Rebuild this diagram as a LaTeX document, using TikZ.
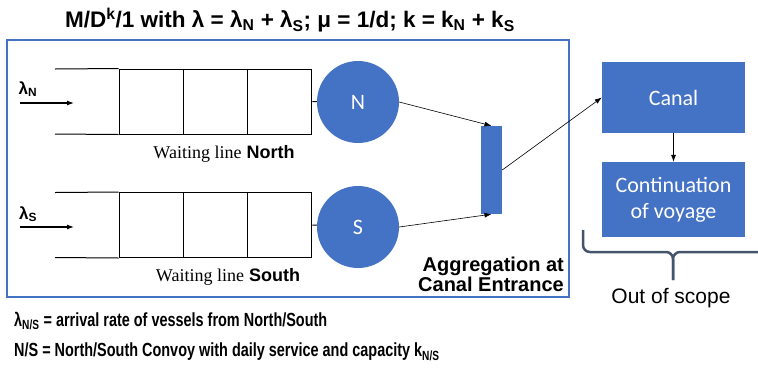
\documentclass[tikz,border=0pt]{standalone}
\usepackage{fontspec}
\setmainfont{Liberation Sans}
\newfontfamily\serifFont{Liberation Serif}
\newfontfamily\boxFont{Carlito}
\newfontfamily\narrowFont[FakeStretch=0.76]{Liberation Sans}
\usetikzlibrary{arrows.meta}
\definecolor{officeBlue}{HTML}{4472C4}
\definecolor{braceGray}{HTML}{44546A}
\newcommand{\fsize}[2]{\fontsize{#1}{#2}\selectfont}
\newcommand{\rate}[1]{λ\textsubscript{#1}}
\newcommand{\capk}[1]{k\textsubscript{#1}}

\begin{document}
\begin{tikzpicture}[x=1pt,y=-1pt,
  cell/.style={draw,line width=1pt,minimum width=64.3pt,minimum height=65pt,inner sep=0pt},
  server/.style={circle,fill=officeBlue,minimum size=82pt,inner sep=0pt,text=white,font=\boxFont\fsize{22}{24}},
  block/.style={fill=officeBlue,text=white,inner sep=0pt,font=\boxFont\fsize{22}{26},align=center},
  flow/.style={-{Latex[length=7pt,width=5pt]},line width=0.6pt}]
\useasboundingbox (0,0) rectangle (758,368);

% title
\node (title) at (290,20) {\fsize{22.5}{25}\bfseries M/D\textsuperscript{k}/1 with λ = \rate{N} + \rate{S}; μ = 1/d; k = \capk{N} + \capk{S}};
\draw[officeBlue,line width=2.5pt] (7,40) rectangle (569,297);

% waiting lines
\foreach \x [count=\i] in {151.2,215.5,279.8} {
  \node[cell] (cellN\i) at (\x,101.5) {};
  \node[cell] (cellS\i) at (\x,225) {};
}
\coordinate (openNtop) at (55,69);
\coordinate (openNbot) at (55,134);
\coordinate (openStop) at (55,192.5);
\coordinate (openSbot) at (55,257.5);
\draw[line width=1pt] (openNtop) -- (cellN1.north west);
\draw[line width=1pt] (openNbot) -- (cellN1.south west);
\draw[line width=1pt] (openStop) -- (cellS1.north west);
\draw[line width=1pt] (openSbot) -- (cellS1.south west);

\node[server] (serverN) at (358,102) {N};
\node[server] (serverS) at (358,227) {S};
\draw[line width=1pt] (cellN3.east) -- (serverN);
\draw[line width=1pt] (cellS3.east) -- (serverS);

\node (rateN) at (28,89) {\fsize{17}{19}\bfseries\rate{N}};
\node (rateS) at (28,214) {\fsize{17}{19}\bfseries\rate{S}};
\coordinate (inNstart) at (20,103);
\coordinate (inNend) at (74,103);
\coordinate (inSstart) at (20,227);
\coordinate (inSend) at (74,227);
\draw[flow,line width=1.1pt] (inNstart) -- (inNend);
\draw[flow,line width=1.1pt] (inSstart) -- (inSend);

\node (labelN) at (224,154) {\fsize{18}{20}{\serifFont Waiting line} \bfseries North};
\node (labelS) at (228,277) {\fsize{18}{20}{\serifFont Waiting line} \bfseries South};

% aggregation
\node[fill=officeBlue,minimum width=21pt,minimum height=88pt,inner sep=0pt] (agg) at (491.5,170) {};
\draw[flow] (serverN.east) -- (agg.north);
\draw[flow] (serverS.east) -- (agg.south);
\node[anchor=east,align=right,inner sep=0pt] (aggLabel) at (564,274) {\fsize{20}{25}\bfseries Aggregation at\\\fsize{20}{25}\bfseries Canal Entrance};

% out of scope
\node[block,minimum width=143pt,minimum height=71pt] (canal) at (673.5,97.5) {Canal};
\node[block,minimum width=143pt,minimum height=75pt] (voyage) at (673.5,199.5) {Continuation\\of voyage};
\draw[flow] (agg.east) -- (canal.west);
\draw[flow] (canal) -- (voyage);
\coordinate (braceL) at (583,230);
\coordinate (braceTip) at (673,280);
\coordinate (braceR) at (760,252);
\draw[braceGray,line width=2.5pt,rounded corners=7pt] (braceL) -- (583,252) -- (673,252) -- (braceTip);
\draw[braceGray,line width=2.5pt,rounded corners=7pt] (braceR) -- (673,252) -- (braceTip);
\node (scope) at (671,298) {\fsize{21}{24}Out of scope};

% legend
\node[anchor=west,inner sep=0pt] (legendRate) at (14,321) {\narrowFont\fsize{19}{22}\bfseries\rate{N/S} = arrival rate of vessels from North/South};
\node[anchor=west,inner sep=0pt] (legendConvoy) at (14,352) {\narrowFont\fsize{19}{22}\bfseries N/S = North/South Convoy with daily service and capacity \capk{N/S}};
\end{tikzpicture}
\end{document}
